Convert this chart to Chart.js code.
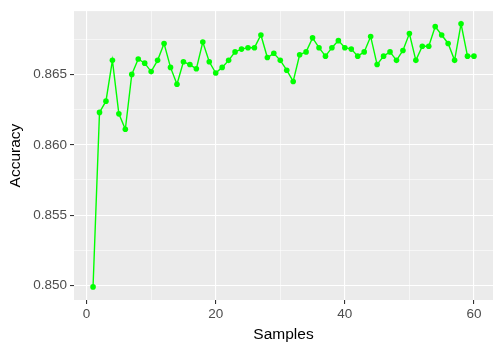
<!DOCTYPE html>
<html>
<head>
<meta charset="utf-8">
<script src="https://cdn.jsdelivr.net/npm/chart.js@4/dist/chart.umd.min.js"></script>
<style>
  html, body { margin: 0; padding: 0; background: #fff; }
  #wrap { width: 500px; height: 350px; }
</style>
</head>
<body>
<div id="wrap"><canvas id="chart" width="500" height="350"></canvas></div>
<script>
// samples 1..60
const samples = [];
for (let i = 1; i <= 60; i++) samples.push(i);

const accuracy = [
  0.8499, 0.8623, 0.8631, 0.8660, 0.8622, 0.8611, 0.8650, 0.8661, 0.8658, 0.8652,
  0.8660, 0.8672, 0.8655, 0.8643, 0.8659, 0.8657, 0.8654, 0.8673, 0.8659, 0.8651,
  0.8655, 0.8660, 0.8666, 0.8668, 0.8669, 0.8669, 0.8678, 0.8662, 0.8665, 0.8660,
  0.8653, 0.8645, 0.8664, 0.8666, 0.8676, 0.8669, 0.8663, 0.8669, 0.8674, 0.8669,
  0.8668, 0.8663, 0.8666, 0.8677, 0.8657, 0.8663, 0.8666, 0.8660, 0.8667, 0.8679,
  0.8660, 0.8670, 0.8670, 0.8684, 0.8678, 0.8672, 0.8660, 0.8686, 0.8663, 0.8663
];

const xTicks = [0, 10, 20, 30, 40, 50, 60];
const yTicks = [0.85, 0.8525, 0.855, 0.8575, 0.86, 0.8625, 0.865, 0.8675];

const isMajorX = v => v % 20 === 0;
const isMajorY = v => Math.abs(v * 200 - Math.round(v * 200)) < 1e-6;

const font = "'Liberation Sans', Arial, sans-serif";

const panelBg = {
  id: "panelBg",
  beforeDraw(chart) {
    const a = chart.chartArea;
    const c = chart.ctx;
    c.save();
    c.fillStyle = "#EBEBEB";
    c.fillRect(a.left, a.top, a.right - a.left, a.bottom - a.top);
    c.restore();
  }
};

new Chart(document.getElementById("chart"), {
  type: "line",
  data: {
    datasets: [{
      data: samples.map((s, i) => ({ x: s, y: accuracy[i] })),
      borderColor: "#00FF00",
      backgroundColor: "#00FF00",
      borderWidth: 1.4,
      pointRadius: 2.8,
      pointBorderWidth: 0,
      tension: 0,
      fill: false
    }]
  },
  options: {
    responsive: false,
    animation: false,
    layout: { padding: { top: 7, right: 7, left: 0, bottom: 0 } },
    plugins: { legend: { display: false }, tooltip: { enabled: false } },
    scales: {
      x: {
        type: "linear",
        min: -1.95,
        max: 62.95,
        afterBuildTicks: s => { s.ticks = xTicks.map(v => ({ value: v })); },
        afterFit: s => { s.height = 50; },
        border: { display: false },
        grid: {
          color: "#FFFFFF",
          lineWidth: c => isMajorX(c.tick.value) ? 1.1 : 0.55,
          tickColor: c => isMajorX(c.tick.value) ? "#333333" : "rgba(0,0,0,0)",
          tickLength: 4,
          tickWidth: 1.1
        },
        ticks: {
          autoSkip: false,
          maxRotation: 0,
          padding: 2,
          color: "#4D4D4D",
          font: { family: font, size: 13.5 },
          callback: v => isMajorX(v) ? String(v) : ""
        },
        title: {
          display: true,
          text: "Samples",
          color: "#000000",
          font: { family: font, size: 15.5 },
          padding: { top: 2, bottom: 6 }
        }
      },
      y: {
        type: "linear",
        min: 0.84897,
        max: 0.8695,
        afterBuildTicks: s => { s.ticks = yTicks.map(v => ({ value: v })); },
        afterFit: s => { s.width = 74; },
        border: { display: false },
        grid: {
          color: "#FFFFFF",
          lineWidth: c => isMajorY(c.tick.value) ? 1.1 : 0.55,
          tickColor: c => isMajorY(c.tick.value) ? "#333333" : "rgba(0,0,0,0)",
          tickLength: 4,
          tickWidth: 1.1
        },
        ticks: {
          autoSkip: false,
          padding: 3,
          color: "#4D4D4D",
          font: { family: font, size: 13.5 },
          callback: v => isMajorY(v) ? v.toFixed(3) : ""
        },
        title: {
          display: true,
          text: "Accuracy",
          color: "#000000",
          font: { family: font, size: 15.5 },
          padding: { top: 6, bottom: 0 }
        }
      }
    }
  },
  plugins: [panelBg]
});
</script>
</body>
</html>
